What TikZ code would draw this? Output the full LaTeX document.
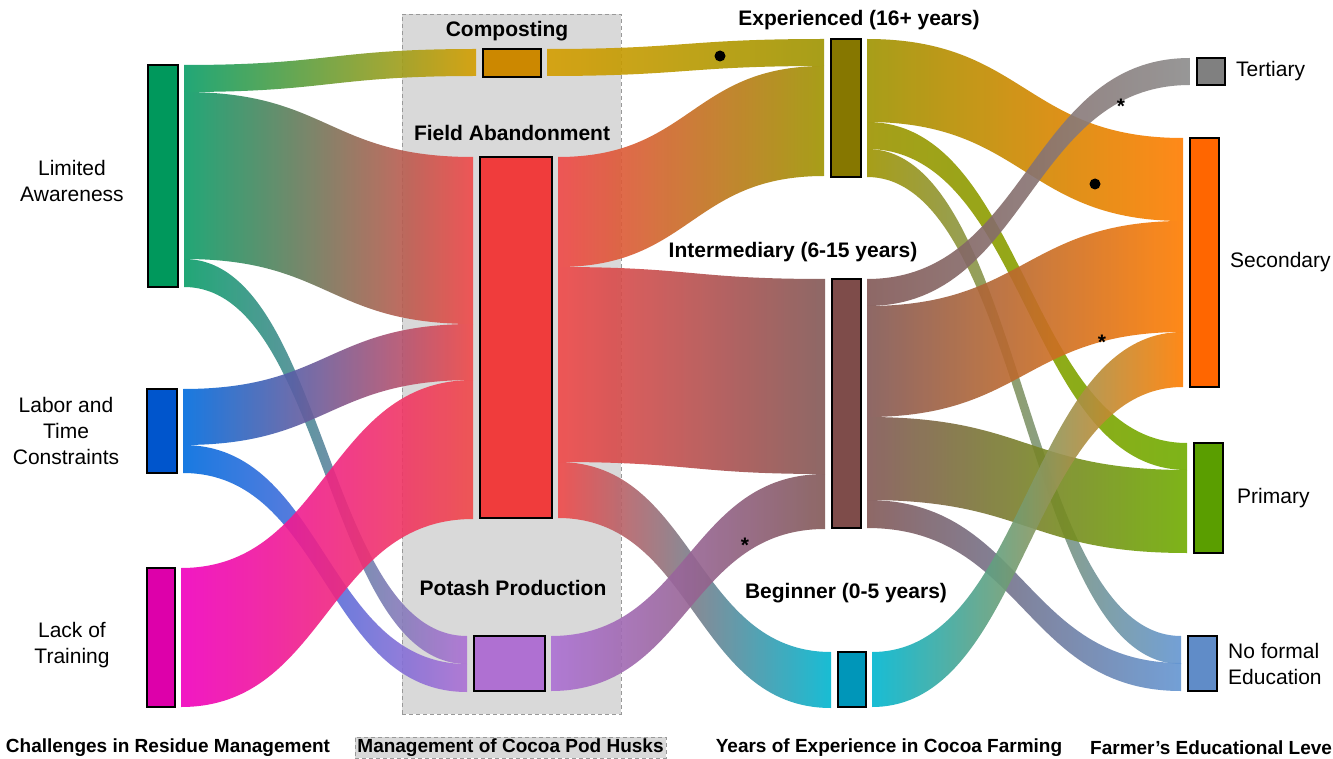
\documentclass[tikz,border=0pt]{standalone}
\usepackage{fontspec}
\setmainfont{Liberation Sans}
\usepackage{tikz}
\usetikzlibrary{positioning,calc}
% node colours
\definecolor{nAware}{RGB}{0,152,92}
\definecolor{nLabor}{RGB}{0,85,204}
\definecolor{nTrain}{RGB}{221,0,170}
\definecolor{nCompost}{RGB}{204,136,0}
\definecolor{nField}{RGB}{240,60,60}
\definecolor{nPotash}{RGB}{175,112,210}
\definecolor{nExper}{RGB}{134,119,0}
\definecolor{nInter}{RGB}{126,76,74}
\definecolor{nBegin}{RGB}{0,150,185}
\definecolor{nTert}{RGB}{128,128,128}
\definecolor{nSecond}{RGB}{255,102,0}
\definecolor{nPrimary}{RGB}{90,158,0}
\definecolor{nNoform}{RGB}{96,140,200}
% link colours
\definecolor{lAware}{RGB}{10,158,104}
\definecolor{lLabor}{RGB}{0,108,222}
\definecolor{lTrain}{RGB}{240,0,190}
\definecolor{lCompost}{RGB}{212,158,0}
\definecolor{lField}{RGB}{240,72,72}
\definecolor{lPotash}{RGB}{172,112,212}
\definecolor{lExper}{RGB}{158,148,0}
\definecolor{lInter}{RGB}{130,88,86}
\definecolor{lBegin}{RGB}{0,182,208}
\definecolor{lTert}{RGB}{140,140,140}
\definecolor{lSecond}{RGB}{255,125,0}
\definecolor{lPrimary}{RGB}{112,172,0}
\definecolor{lNoform}{RGB}{100,150,210}
\definecolor{huskgray}{RGB}{217,217,217}

% one band: source, offset, target, offset, width, colours
\newcommand{\linkband}[7]{%
  \path[link, left color=#6, right color=#7]
    let \p1=($(#1.north east)+(6,#2)$), \p2=($(#3.north west)+(-7,#4)$) in
    (\p1) .. controls ({(\x1+\x2)/2},\y1) and ({(\x1+\x2)/2},\y2) .. (\p2)
    -- (\x2,{\y2-#5pt}) .. controls ({(\x1+\x2)/2},{\y2-#5pt}) and ({(\x1+\x2)/2},{\y1-#5pt}) .. (\x1,{\y1-#5pt})
    -- cycle;
}

\begin{document}
\begin{tikzpicture}[x=1pt, y=-1pt,
    % Box styles
    bar/.style={draw=black, line width=1.8pt, inner sep=0pt, outer sep=0pt},
    link/.style={fill opacity=0.9},
    husk/.style={draw=gray!80, dash pattern=on 4pt off 3pt, line width=0.8pt, fill=huskgray},
    % Text styles
    head/.style={font=\fontsize{21}{25}\selectfont\bfseries, inner sep=0pt},
    lbl/.style={font=\fontsize{21}{26}\selectfont, align=center, inner sep=0pt},
    axis/.style={font=\fontsize{19}{23}\selectfont\bfseries, inner sep=0pt},
    dot/.style={circle, fill=black, inner sep=0pt, minimum size=11pt},
    star/.style={font=\fontsize{21}{25}\selectfont\bfseries, inner sep=0pt},
  ]
  \path[fill=white, use as bounding box] (0,0) rectangle (1333,759);

  % ===== middle column background =====
  \node[husk, minimum width=219pt, minimum height=700pt] (husks) at (511.5,364) {};

  % ===== Challenges =====
  \node[bar, fill=nAware, minimum width=30pt, minimum height=222pt] (aware) at (163,176) {};
  \node[bar, fill=nLabor, minimum width=30pt, minimum height=84pt] (labor) at (162,431) {};
  \node[bar, fill=nTrain, minimum width=28pt, minimum height=139pt] (train) at (161,637.5) {};

  % ===== Management =====
  \node[bar, fill=nCompost, minimum width=58pt, minimum height=28pt] (compost) at (512,63) {};
  \node[bar, fill=nField, minimum width=72pt, minimum height=361pt] (field) at (516,337.5) {};
  \node[bar, fill=nPotash, minimum width=71pt, minimum height=55pt] (potash) at (509.5,663.5) {};

  % ===== Experience =====
  \node[bar, fill=nExper, minimum width=30pt, minimum height=138pt] (exper) at (846,108) {};
  \node[bar, fill=nInter, minimum width=29pt, minimum height=249pt] (inter) at (846.5,403.5) {};
  \node[bar, fill=nBegin, minimum width=28pt, minimum height=55pt] (begin) at (852,679.5) {};

  % ===== Education =====
  \node[bar, fill=nTert, minimum width=28pt, minimum height=27pt] (tert) at (1211,71.5) {};
  \node[bar, fill=nSecond, minimum width=29pt, minimum height=249pt] (second) at (1204.5,262.5) {};
  \node[bar, fill=nPrimary, minimum width=29pt, minimum height=110pt] (primary) at (1208.5,498) {};
  \node[bar, fill=nNoform, minimum width=29pt, minimum height=55pt] (noform) at (1202.5,663.5) {};

  % Links: challenges -> management
  \linkband{aware}{0}{compost}{0}{27}{lAware}{lCompost}
  \linkband{aware}{27}{field}{0}{167}{lAware}{lField}
  \linkband{aware}{194}{potash}{0}{28}{lAware}{lPotash}
  \linkband{labor}{0}{field}{167}{56}{lLabor}{lField}
  \linkband{labor}{56}{potash}{28}{28}{lLabor}{lPotash}
  \linkband{train}{0}{field}{223}{139}{lTrain}{lField}

  % Links: management -> experience
  \linkband{compost}{0}{exper}{0}{27}{lCompost}{lExper}
  \linkband{field}{0}{exper}{27}{110}{lField}{lExper}
  \linkband{field}{110}{inter}{0}{195}{lField}{lInter}
  \linkband{field}{305}{begin}{0}{56}{lField}{lBegin}
  \linkband{potash}{0}{inter}{195}{55}{lPotash}{lInter}

  % Links: experience -> education
  \linkband{exper}{0}{second}{0}{83}{lExper}{lSecond}
  \linkband{exper}{83}{primary}{0}{27}{lExper}{lPrimary}
  \linkband{exper}{110}{noform}{0}{28}{lExper}{lNoform}
  \linkband{inter}{0}{tert}{0}{27}{lInter}{lTert}
  \linkband{inter}{27}{second}{83}{111}{lInter}{lSecond}
  \linkband{inter}{138}{primary}{27}{83}{lInter}{lPrimary}
  \linkband{inter}{221}{noform}{27}{28}{lInter}{lNoform}
  \linkband{begin}{0}{second}{194}{55}{lBegin}{lSecond}

  % Node labels
  \node[lbl] (awarelbl) at (72,181) {Limited\\Awareness};
  \node[lbl] (laborlbl) at (66,431) {Labor and\\Time\\Constraints};
  \node[lbl] (trainlbl) at (72,645.5) {Lack of\\Training};

  \node[head] (compostlbl) at (507,31) {Composting};
  \node[head] (fieldlbl) at (512,133) {Field Abandonment};
  \node[head] (potashlbl) at (513,588) {Potash Production};

  \node[head] (experlbl) at (859,20) {Experienced (16+ years)};
  \node[head] (interlbl) at (793,252) {Intermediary (6-15 years)};
  \node[head] (beginlbl) at (846,593) {Beginner (0-5 years)};

  \node[lbl, right=11pt of tert] (tertlbl) {Tertiary};
  \node[lbl, right=11pt of second] (secondlbl) {Secondary};
  \node[lbl, right=14pt of primary] (primarylbl) {Primary};
  \node[lbl, align=left, right=11pt of noform] (noformlbl) {No formal\\Education};

  % Markers
  \node[dot] (dot1) at (720,56) {};
  \node[dot] (dot2) at (1095,184) {};
  \node[star] (star1) at (1121,106) {*};
  \node[star] (star2) at (1102,342) {*};
  \node[star] (star3) at (745,545) {*};

  % Axis titles
  \node[axis] (axis1) at (168,748) {Challenges in Residue Management};
  \node[husk, axis, minimum width=311pt, minimum height=21pt] (axis2) at (510.5,747.5) {Management of Cocoa Pod Husks};
  \node[axis] (axis3) at (889,748) {Years of Experience in Cocoa Farming};
  \node[axis, anchor=west] (axis4) at (1090,748) {Farmer's Educational Leve};

\end{tikzpicture}
\end{document}
